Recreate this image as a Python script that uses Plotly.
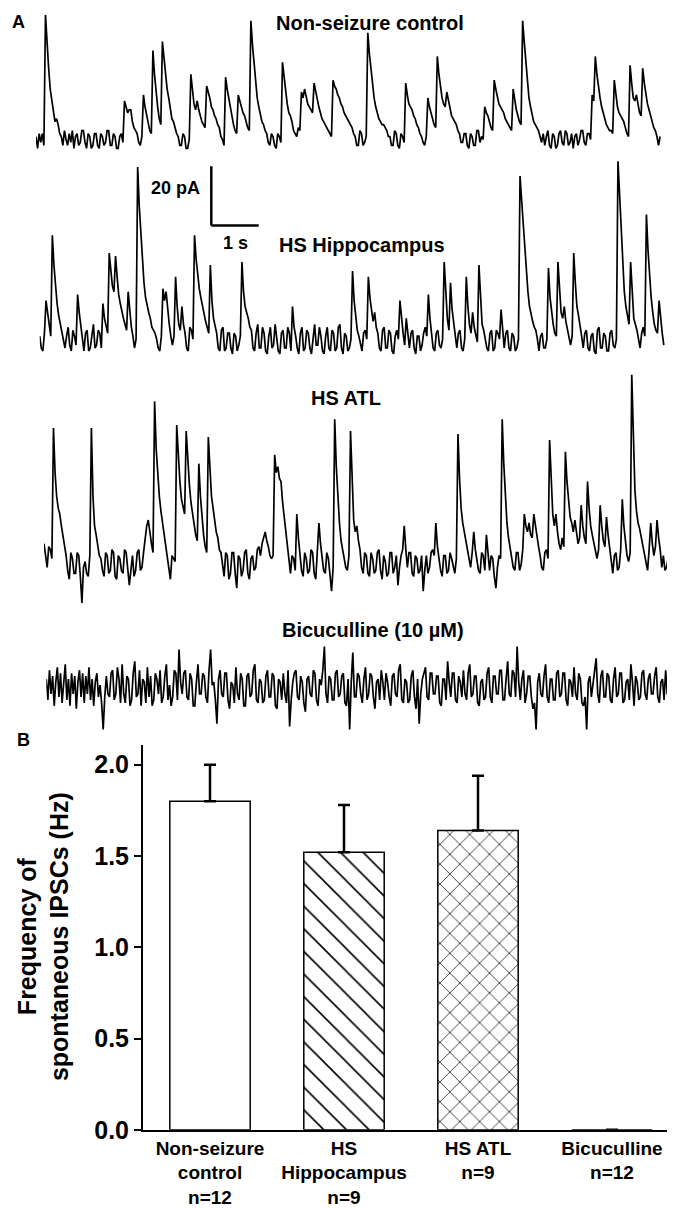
import plotly.graph_objects as go

W, H = 675, 1208
FONT = "Liberation Sans, Arial, sans-serif"

# ---------------- DATA ----------------
DT = 1 / 30

# Panel A: current traces (pA, relative to baseline)
ctrl_pA = [
    1, -3, 2, -1, 2, -2, 42, 32, 24, 17, 13, 9, 6, 7, 5, 2, 1, -2, 3, 0,
    -2, 2, -1, 3, -3, 1, 2, -2, -1, 3, 3, -1, -3, 2, 1, -3, -2, 2, 2, -2,
    -3, 2, 1, -2, -1, 3, 3, -2, -2, 2, 1, -3, -3, 1, 2, -1, 13, 11, 9, 10,
    10, 6, 4, 3, 2, -1, -2, 1, 15, 11, 8, 5, 3, 2, 30, 22, 16, 11, 7, 5,
    33, 27, 22, 17, 14, 10, 7, 6, 4, 2, 1, -2, -2, 2, 1, -3, -3, 0, 22, 16,
    12, 10, 13, 10, 8, 6, 5, 4, 18, 16, 14, 11, 10, 8, 7, 5, 4, 1, 0, -2,
    21, 17, 14, 10, 7, 5, 3, 2, 15, 13, 11, 9, 8, 6, 4, 3, 40, 32, 25, 19,
    14, 11, 8, 6, 5, 3, 2, -1, -2, 2, 1, -2, -3, 2, 1, -1, 26, 21, 17, 12,
    9, 8, 6, 3, 2, 1, 4, 3, 16, 14, 17, 14, 12, 11, 10, 9, 19, 16, 13, 11,
    9, 7, 6, 5, 4, 3, 2, 1, 20, 18, 17, 15, 14, 12, 11, 9, 8, 7, 6, 5,
    4, 2, 1, -2, -2, 3, 2, -2, -1, 1, 36, 29, 24, 18, 14, 11, 9, 7, 6, 5,
    5, 4, 3, 1, 1, -2, -2, 3, 2, -2, -3, 2, 1, -1, 19, 15, 12, 11, 10, 8,
    7, 5, 4, 2, 1, -1, -2, 1, 14, 11, 9, 7, 5, 4, 28, 22, 17, 14, 12, 11,
    16, 13, 10, 8, 7, 6, 5, 3, 2, -1, -1, 2, 2, -2, -3, 2, 1, -2, -2, 3,
    3, -1, 1, 0, 11, 9, 8, 6, 4, 3, 20, 17, 14, 12, 11, 10, 9, 7, 6, 5,
    4, 3, 17, 13, 10, 8, 6, 5, 40, 33, 27, 20, 14, 11, 8, 6, 5, 4, 3, 1,
    -1, 2, -2, 1, 3, -2, -3, 2, 1, -3, -2, 2, 3, -1, -2, 3, 2, -2, -1, 2,
    -3, 1, 2, -2, 0, 3, 3, -1, -2, 2, 2, 0, 15, 13, 28, 22, 17, 14, 11, 9,
    7, 5, 4, 3, 3, 2, 20, 15, 11, 9, 8, 7, 6, 4, 2, 1, 25, 19, 14, 13,
    15, 12, 9, 8, 24, 19, 15, 12, 10, 8, 6, 4, 3, 1, -2, 1,
]
hipp_pA = [
    2, -2, -3, 3, 14, 9, 6, 2, 36, 26, 18, 13, 9, 6, 4, 1, -2, 2, 5, -1,
    -3, 4, 2, -1, 16, 10, 6, 1, -3, 3, 4, -3, -2, 2, 6, -2, -1, 4, 3, -2,
    13, 8, 5, 3, 30, 24, 19, 17, 29, 22, 16, 13, 10, 8, 6, 4, 17, 10, 5, 2,
    -2, 1, 59, 46, 36, 27, 20, 15, 12, 10, 8, 5, 4, 3, 1, -2, -3, 2, 18, 14,
    17, 10, 6, 2, -1, 2, 22, 12, 6, 4, 12, 6, 3, -2, -3, 5, 4, 1, 36, 28,
    22, 18, 15, 12, 10, 7, 5, 3, 26, 14, 8, 5, 3, -2, -3, 4, 5, -3, -2, 3,
    3, -2, -4, 3, 2, -3, -1, 2, 27, 17, 12, 10, 8, 5, 4, -2, -3, 3, 6, -2,
    -2, 5, 3, -3, -4, 2, 5, -2, -1, 6, 2, -3, -4, 3, 4, -2, -2, 5, 3, -3,
    12, 5, 2, -2, -4, 3, 5, -3, -2, 4, 3, -2, -4, 2, 6, -1, -1, 5, 2, -3,
    -4, 2, 5, -2, -3, 4, 3, -3, -2, 5, 6, -2, -4, 3, 2, -3, -2, 1, 24, 14,
    8, 4, 2, -1, -3, 3, 4, 1, 22, 15, 10, 7, 10, 5, 3, -2, -3, 4, 5, -2,
    -2, 4, 3, -3, -4, 2, 4, 1, 14, 7, 3, -1, 8, 3, -2, 3, 4, -2, -4, 2,
    2, -3, -1, 3, 5, 2, 16, 8, 3, -2, -3, 3, 4, -1, -2, 1, 27, 15, 8, 4,
    20, 11, 6, 2, -2, 3, 4, -2, -3, 1, 22, 12, 6, 3, 10, 5, 2, 0, 26, 14,
    6, 4, 1, -2, -3, 3, 4, -3, -2, 4, 3, 1, 11, 4, -2, 3, 4, -2, -3, 3,
    2, -3, -2, 1, 56, 48, 40, 32, 24, 17, 12, 9, 7, 5, 4, 1, -3, 2, 3, -2,
    -2, 1, 25, 15, 10, 6, 3, 2, 27, 16, 10, 8, 12, 7, 4, 2, -1, 2, 30, 20,
    12, 9, 6, 2, -2, 3, 4, -2, -3, 2, 3, -3, -4, 4, 5, -2, -2, 3, 2, -3,
    -3, 3, 4, -1, -2, 1, 61, 50, 38, 26, 17, 12, 9, 6, 27, 15, 8, 6, 4, 1,
    -2, 3, 5, 2, 43, 31, 22, 15, 10, 6, 4, 3, 14, 7, 3, -1,
]
atl_pA = [
    6, 1, -2, 5, 4, 1, 45, 30, 22, 18, 16, 12, 9, 5, 2, -3, -6, 3, 1, -4,
    -4, 3, 2, -5, -14, -2, 0, -4, -5, 2, 45, 22, 12, 9, 6, 2, 1, -3, -5, 3,
    2, -4, -3, 4, 3, -5, -6, 2, 1, -3, -4, 4, 3, -2, -8, -3, 2, -5, -3, 3,
    4, -3, -2, 3, 8, 12, 14, 9, 6, 3, 54, 38, 28, 22, 17, 13, 9, 5, 2, -3,
    -6, 2, 1, 0, 46, 34, 27, 21, 18, 16, 44, 33, 26, 20, 16, 12, 9, 7, 33, 22,
    14, 9, 5, 3, 42, 30, 22, 18, 14, 10, 8, 4, 3, -2, -5, 3, 2, -6, -4, 3,
    3, -4, -9, 2, 1, -5, -3, 3, 4, -4, -6, 1, 2, -3, -2, 4, 5, 2, 6, 8,
    10, 7, 5, 2, 1, 2, 36, 30, 32, 28, 27, 20, 15, 9, 5, 1, -4, 2, 1, -3,
    16, 8, 3, -3, -5, 3, 1, -4, -3, 4, 3, -4, -6, 2, 13, 6, 2, -3, -4, 3,
    1, -4, -10, -2, 48, 32, 22, 13, 7, 4, 1, -2, -3, 2, 44, 25, 14, 10, 12, 7,
    4, -2, -4, 3, 2, -4, -5, 3, 1, -4, -3, 3, 4, -3, -6, 2, 0, -5, -4, 3,
    3, -4, -2, 2, -8, -2, 2, 4, 12, 4, -2, 3, 3, -4, -5, 2, 1, -4, -3, 2,
    -10, -3, 2, -4, -2, 3, 4, 2, 13, 5, 1, -3, -5, 2, 2, -4, -3, 3, 1, -2,
    -4, 1, 43, 28, 18, 13, 10, 7, 5, 1, -2, 3, 10, 4, 0, -3, -4, 3, 2, -3,
    9, 3, -3, 2, 1, -5, -9, -2, 2, 1, 48, 33, 20, 13, 8, 5, 2, -2, -3, 3,
    3, -3, -1, 4, 16, 12, 10, 13, 9, 8, 16, 12, 8, 5, 2, -2, -3, 3, 4, 1,
    41, 26, 16, 12, 16, 10, 6, 4, 8, 5, 37, 27, 20, 15, 13, 10, 14, 9, 6, 8,
    19, 12, 8, 6, 27, 18, 12, 9, 6, 3, 1, 4, 19, 12, 7, 5, 15, 9, 5, 1,
    -4, 2, 3, -3, -2, 4, 21, 12, 6, 2, 0, 3, 63, 40, 24, 17, 13, 11, 8, 5,
    3, -1, -3, 4, 13, 6, 2, 5, 14, 8, 4, -2, 2, -3, -2, 1,
]
bic_pA = [
    3, -4, 6, -2, 4, -6, 2, 7, -3, 5, -5, 1, 8, -4, 3, -6, 5, -2, 4, -7,
    2, 6, -3, 5, -5, 4, -2, 7, -4, 3, -6, 2, 5, -3, 1, -5, -14, -3, 4, -2,
    -3, 5, 6, -4, -2, 7, 3, -5, 8, -2, -5, 4, 3, -6, -4, 5, 9, -3, -2, 6,
    -6, 3, 2, -5, 7, -3, 4, -6, -4, 5, 3, -2, 6, -5, -3, 4, 8, -4, 1, -6,
    -3, 6, 5, -4, 13, 2, -2, 5, 6, -3, -4, 5, 3, -6, -6, 2, 8, -2, -2, 5,
    4, -3, -5, 6, 13, 1, 2, -4, -12, 3, 6, -2, -3, 5, 5, -4, -7, 2, 1, -5,
    7, -2, -4, 5, 3, -6, -6, 4, 5, -3, -2, 6, 8, -4, -5, 3, 2, -5, -4, 4,
    6, -3, -3, 5, 4, -6, -7, 3, 2, -4, 5, -2, -5, 6, -13, -4, 2, 5, 6, -3,
    -4, 4, 2, -5, -8, 3, 4, -2, -3, 6, 5, -4, -6, 3, 1, 6, 14, -2, -5, 4,
    3, -4, -4, 5, 6, -3, -2, 4, 5, -5, -6, 3, -14, 2, 12, -3, -3, 5, 4, -2,
    -5, 3, 7, -4, -2, 5, 4, -3, -7, 2, 3, -4, 6, 2, -4, 5, 2, -3, -6, 4,
    5, -2, -3, 6, 8, -4, -5, 3, 2, -5, -4, 4, 6, -3, -7, 3, -12, -2, 3, 5,
    7, -3, -4, 5, 5, -2, -2, 4, 4, -5, -6, 3, 3, -4, 9, 2, -3, 5, 5, -4,
    -5, 4, 2, -3, 6, -2, -4, 5, 8, -3, -2, 4, 4, -5, -6, 2, 3, -4, -3, 5,
    7, -3, -5, 4, 4, -2, -2, 6, 6, -4, -4, 3, 9, -2, -3, 6, 5, -3, 14, 2,
    -4, 3, 6, -5, -2, 4, 4, -3, -7, -5, -14, 2, 5, -2, -3, 4, 8, -3, -5, 3,
    3, -4, -4, 5, 6, -3, -2, 5, 5, -4, -6, 3, 2, -3, 7, -2, -4, 5, 3, -5,
    -6, -3, -14, 2, 4, -3, 2, 6, 10, -2, -5, 4, 6, -3, -3, 5, 4, -4, -5, 3,
    7, -3, -2, 5, 5, -5, -4, 2, 3, -4, 8, 2, -6, 4, 2, -4, -3, 5, 6, -2,
    -4, 3, 5, -2, -2, 4, 7, -3, -5, 2, 3, -4, 6, -2, -3, 1,
]
trace_titles = ["Non-seizure control", "HS Hippocampus", "HS ATL", "Bicuculline (10 µM)"]

scale_bar_pA = 20
scale_bar_s = 1

# Panel B: bar chart
categories = ["Non-seizure control", "HS Hippocampus", "HS ATL", "Bicuculline"]
cat_labels = ["Non-seizure<br>control", "HS<br>Hippocampus", "HS ATL", "Bicuculline"]
n_cells = [12, 9, 9, 12]
freq_hz = [1.80, 1.52, 1.64, 0.0]
sem_hz = [0.20, 0.26, 0.30, 0.0]
y_ticks = [0.0, 0.5, 1.0, 1.5, 2.0]
y_title = "Frequency of<br>spontaneous IPSCs (Hz)"

# ---------------- LAYOUT CONSTANTS (reference pixel positions) ----------------
PX_PER_S = 47.4
PX_PER_PA = 3.0
TRACE_W = 630
# (values, x_start px, baseline px, band top px, band bottom px, title centre x, title centre y)
panels = [
    (ctrl_pA, 28.0, 133, 0, 165, 362, 15),
    (hipp_pA, 31.7, 338, 150, 375, 354, 240),
    (atl_pA, 36.0, 560, 365, 615, 338, 395),
    (bic_pA, 38.3, 688, 635, 740, 365, 629),
]


def px(x):
    return x / W


def py(y):
    return 1 - y / H


def label(text, x, y, size, angle=0):
    return dict(text=text, x=px(x), y=py(y), xref="paper", yref="paper",
                xanchor="center", yanchor="middle", showarrow=False, textangle=angle,
                font=dict(family=FONT, size=size, color="black", weight="bold"))


fig = go.Figure()
annotations = []
layout_axes = {}

for i, (vals, xs, base, top, bot, tcx, tcy) in enumerate(panels, start=1):
    sfx = "" if i == 1 else str(i)
    t = [k * DT for k in range(len(vals))]
    fig.add_trace(go.Scatter(
        x=t, y=vals, mode="lines",
        line=dict(color="black", width=1.7),
        xaxis="x" + sfx, yaxis="y" + sfx, hoverinfo="skip", showlegend=False,
    ))
    layout_axes["xaxis" + sfx] = dict(
        domain=[px(xs), px(xs + TRACE_W)], range=[0, TRACE_W / PX_PER_S],
        visible=False, anchor="y" + sfx, fixedrange=True)
    layout_axes["yaxis" + sfx] = dict(
        domain=[py(bot), py(top)],
        range=[(base - bot) / PX_PER_PA, (base - top) / PX_PER_PA],
        visible=False, anchor="x" + sfx, fixedrange=True)
    annotations.append(label(trace_titles[i - 1], tcx, tcy, 20))

# scale bar drawn in the units of the HS Hippocampus trace axes
sb_t0 = (203.3 - 31.7) / PX_PER_S
sb_v0 = (338 - 220) / PX_PER_PA
shapes = [
    dict(type="line", xref="x2", yref="y2", x0=sb_t0, x1=sb_t0,
         y0=sb_v0, y1=sb_v0 + scale_bar_pA, line=dict(color="black", width=2.5)),
    dict(type="line", xref="x2", yref="y2", x0=sb_t0, x1=sb_t0 + scale_bar_s,
         y0=sb_v0, y1=sb_v0, line=dict(color="black", width=2.5)),
]
annotations.append(label(f"{scale_bar_pA} pA", 167, 182, 18))
annotations.append(label(f"{scale_bar_s} s", 227, 238, 18))
annotations.append(label("A", 10, 14, 18))
annotations.append(label("B", 15, 741, 18))

# ---------------- Panel B ----------------
fig.add_trace(go.Bar(
    x=categories, y=freq_hz, width=0.6,
    error_y=dict(type="data", array=sem_hz, arrayminus=[0] * len(sem_hz), symmetric=False,
                 color="black", thickness=2.5, width=6),
    marker=dict(color="white", line=dict(color="black", width=1.5),
                pattern=dict(shape=["", "\\", "x", ""], size=[16, 16, 14, 16], solidity=0.1,
                             fgcolor="black", bgcolor="white", fgopacity=1)),
    xaxis="x5", yaxis="y5", hoverinfo="skip", showlegend=False,
))
layout_axes["xaxis5"] = dict(
    domain=[px(135), px(671)], anchor="y5", type="category",
    categoryorder="array", categoryarray=categories,
    tickvals=categories, ticktext=[f"{l}<br>n={n}" for l, n in zip(cat_labels, n_cells)],
    range=[-0.5, 3.5], showline=True, linecolor="black", linewidth=2, ticks="",
    showgrid=False, zeroline=False, fixedrange=True,
    tickfont=dict(family=FONT, size=19, color="black", weight="bold"))
layout_axes["yaxis5"] = dict(
    domain=[py(1135), py(746)], anchor="x5", range=[0, (1135 - 746) / 184.7],
    tickvals=y_ticks, tickformat=".1f", ticks="outside", ticklen=7, tickwidth=2,
    tickcolor="black", showline=True, linecolor="black", linewidth=2,
    showgrid=False, zeroline=False, fixedrange=True,
    tickfont=dict(family=FONT, size=25, color="black", weight="bold"))
annotations.append(label(y_title, 35, 940, 25, angle=-90))

fig.update_layout(
    width=W, height=H, margin=dict(l=0, r=0, t=0, b=0),
    paper_bgcolor="white", plot_bgcolor="white", showlegend=False,
    annotations=annotations, shapes=shapes, **layout_axes,
)

fig.write_html("out.html")
